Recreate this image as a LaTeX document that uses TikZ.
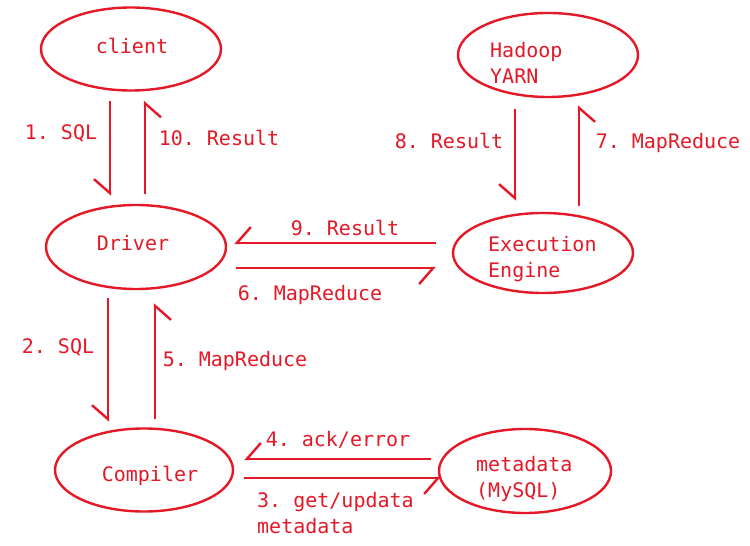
\documentclass[tikz,border=0pt]{standalone}
\usepackage{fontspec}
\setmonofont{DejaVu Sans Mono}
\usetikzlibrary{shapes.geometric,arrows.meta,calc}
\definecolor{pred}{RGB}{228,24,38}
\tikzset{
  oval/.style={ellipse,draw=pred,line width=2.4bp,inner sep=0pt},
  txt/.style={text=pred,font=\ttfamily\fontsize{20bp}{26bp}\selectfont,inner sep=0pt},
  mtxt/.style={txt,align=left,anchor=north west},
  flow/.style={draw=pred,line width=2.4bp,-{Straight Barb[right,length=14bp,width=32bp]}}
}
\begin{document}
\begin{tikzpicture}[x=1bp,y=-1bp]
\useasboundingbox (0,0) rectangle (750,546);
\fill[white] (0,0) rectangle (750,546);
% ellipses
\node[oval,minimum width=180bp,minimum height=83bp] (client) at (131,49) {};
\node[oval,minimum width=180bp,minimum height=84bp] (yarn) at (548,55) {};
\node[oval,minimum width=180bp,minimum height=84bp] (driver) at (136,247) {};
\node[oval,minimum width=180bp,minimum height=80bp] (engine) at (543,253) {};
\node[oval,minimum width=178bp,minimum height=83bp] (compiler) at (144,470) {};
\node[oval,minimum width=172bp,minimum height=84bp] (meta) at (525,471) {};
% texts inside
\node[txt] (tclient) at (132,46) {client};
\node[txt] (tdriver) at (133,243) {Driver};
\node[txt] (tcompiler) at (150,476) {Compiler};
\node[mtxt] (tyarn) at (490,42) {Hadoop\\YARN};
\node[mtxt] (tengine) at (488,236) {Execution\\Engine};
\node[mtxt] (tmeta) at (476,456) {metadata\\(MySQL)};
% connectors
\draw[flow] ($(client.south)+(-21,9)$) -- ($(driver.north)+(-26,-8)$);
\draw[flow] ($(driver.north)+(9,-10)$) -- ($(client.south)+(14,9)$);
\draw[flow] ($(yarn.south)+(-33,11)$) -- ($(engine.north)+(-28,-11)$);
\draw[flow] ($(engine.north)+(36,-6)$) -- ($(yarn.south)+(31,7)$);
\draw[flow] ($(engine.west)+(-16,-10)$) -- ($(driver.east)+(7,-4)$);
\draw[flow] ($(driver.east)+(9,21)$) -- ($(engine.west)+(-16,15)$);
\draw[flow] ($(driver.south)+(-28,8)$) -- ($(compiler.north)+(-36,-5.5)$);
\draw[flow] ($(compiler.north)+(11,-8.5)$) -- ($(driver.south)+(19,13)$);
\draw[flow] ($(meta.west)+(-7,-12)$) -- ($(compiler.east)+(10,-11)$);
\draw[flow] ($(compiler.east)+(10,8)$) -- ($(meta.west)+(3,7)$);
% labels
\node[txt] (l1) at (61,133) {1. SQL};
\node[txt] (l10) at (219,138) {10. Result};
\node[txt] (l8) at (449,141) {8. Result};
\node[txt] (l7) at (668,143) {7. MapReduce};
\node[txt] (l9) at (345,228) {9. Result};
\node[txt] (l6) at (310,295) {6. MapReduce};
\node[txt] (l2) at (58,347) {2. SQL};
\node[txt] (l5) at (235,361) {5. MapReduce};
\node[txt] (l4) at (338,440) {4. ack/error};
\node[mtxt] (l3) at (257,492) {3. get/updata\\metadata};
\end{tikzpicture}
\end{document}
